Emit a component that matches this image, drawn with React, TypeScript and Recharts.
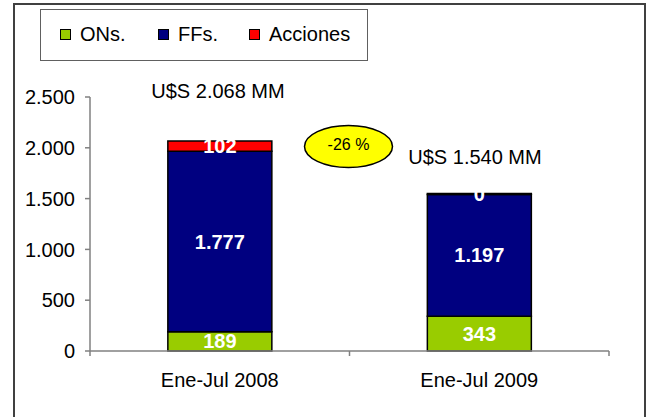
import { BarChart, Bar, XAxis, YAxis, LabelList } from 'recharts';

const categories = ['Ene-Jul 2008', 'Ene-Jul 2009'];
const ons = [189, 343];
const ffs = [1777, 1197];
const acciones = [102, 0];
const yTicks = [0, 500, 1000, 1500, 2000, 2500];
const totalLabels = ['U$S 2.068 MM', 'U$S 1.540 MM'];
const changeLabel = '-26 %';

const SERIES = [
  { key: 'ons', label: 'ONs.', color: '#99CC00' },
  { key: 'ffs', label: 'FFs.', color: '#000080' },
  { key: 'acciones', label: 'Acciones', color: '#FF0000' },
];

const data = categories.map((c, i) => ({
  name: c,
  ons: ons[i],
  ffs: ffs[i],
  acciones: acciones[i],
}));

const FONT = '"Liberation Sans", Arial, sans-serif';

const fmt = (v: number) => String(v).replace(/\B(?=(\d{3})+(?!\d))/g, '.');

function CatTick(props: any) {
  const { x, y, payload, index } = props;
  const off = payload?.offset ?? 0;
  return (
    <g>
      <line x1={x + off} y1={y} x2={x + off} y2={y + 5} stroke="#808080" strokeWidth={1.5} />
      {index === 0 && <line x1={x - off} y1={y} x2={x - off} y2={y + 5} stroke="#808080" strokeWidth={1.5} />}
      <text x={x} y={y + 36} textAnchor="middle" fontSize={20} fill="#000" fontFamily={FONT}>
        {payload.value}
      </text>
    </g>
  );
}

export default function App() {
  return (
    <div style={{ position: 'absolute', left: 0, top: 0, width: 651, height: 417, overflow: 'hidden', background: '#fff', fontFamily: FONT }}>
      {/* marco exterior */}
      <div style={{ position: 'absolute', left: 13, top: 3, width: 633, height: 430, border: '2px solid #404040', boxSizing: 'border-box' }} />

      {/* leyenda */}
      <div style={{ position: 'absolute', left: 40, top: 9, width: 328, height: 52, border: '1px solid #606060', boxSizing: 'border-box' }}>
        {SERIES.map((s, i) => (
          <div key={s.key} style={{ position: 'absolute', left: [19, 117, 208][i], top: 12, display: 'flex', alignItems: 'center', fontSize: 20, lineHeight: '24px', color: '#000' }}>
            <span style={{ width: 11, height: 11, background: s.color, border: '1px solid #000', boxSizing: 'border-box', marginRight: 9 }} />
            <span>{s.label}</span>
          </div>
        ))}
      </div>

      <BarChart
        width={651}
        height={417}
        data={data}
        margin={{ top: 97, right: 42, left: 0, bottom: 36 }}
        barCategoryGap="30%"
        style={{ position: 'absolute', left: 0, top: 0 }}
      >
        <XAxis
          dataKey="name"
          height={30}
          stroke="#808080"
          strokeWidth={1.5}
          tickLine={false}
          tickSize={0}
          tickMargin={0}
          tick={<CatTick />}
          interval={0}
        />
        <YAxis
          width={90}
          domain={[0, 2500]}
          ticks={yTicks}
          interval={0}
          stroke="#808080"
          strokeWidth={1.5}
          tickSize={5}
          tickMargin={10}
          tickFormatter={fmt}
          tick={{ fill: '#000', fontSize: 20, fontFamily: FONT }}
        />
        {SERIES.map((s) => (
          <Bar
            key={s.key}
            dataKey={s.key}
            stackId="a"
            fill={s.color}
            stroke="#000"
            strokeWidth={1.5}
            minPointSize={s.key === 'acciones' ? 1 : 0}
            isAnimationActive={false}
          >
            <LabelList
              dataKey={s.key}
              position="center"
              formatter={(v: any) => fmt(Number(v))}
              fill="#fff"
              fontSize={20}
              fontWeight="bold"
              fontFamily={FONT}
            />
          </Bar>
        ))}
      </BarChart>

      {/* anotaciones */}
      <svg width={651} height={417} style={{ position: 'absolute', left: 0, top: 0, pointerEvents: 'none' }}>
        <text x={218} y={91} dy="0.35em" textAnchor="middle" fontSize={20} fontFamily={FONT} fill="#000">{totalLabels[0]}</text>
        <text x={475} y={157} dy="0.35em" textAnchor="middle" fontSize={20} fontFamily={FONT} fill="#000">{totalLabels[1]}</text>
        <ellipse cx={348.5} cy={146.5} rx={44} ry={21} fill="#FFFF00" stroke="#000" strokeWidth={1.5} />
        <text x={348.5} y={144} dy="0.35em" textAnchor="middle" fontSize={16} fontFamily={FONT} fill="#000">{changeLabel}</text>
      </svg>
    </div>
  );
}
